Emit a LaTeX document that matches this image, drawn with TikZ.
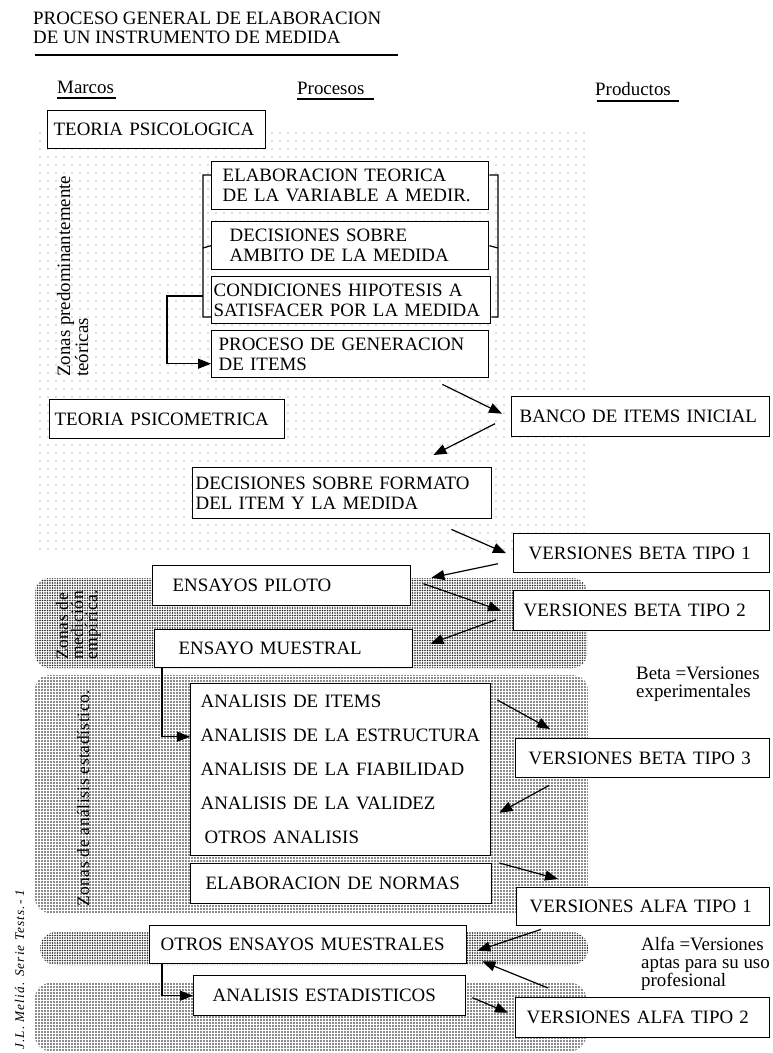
\documentclass[tikz,border=0pt]{standalone}
\usepackage{fontspec}
\setmainfont{Liberation Serif}
\newfontfamily\firma[LetterSpace=8]{Liberation Serif}
\newfontfamily\ancho[LetterSpace=3]{Liberation Serif}
\usetikzlibrary{calc, positioning, arrows.meta, patterns.meta}

\tikzset{
  caja/.style={draw, fill=white, line width=1.4pt, anchor=north west, align=left, inner ysep=0pt},
  flecha/.style={-{Triangle[length=13pt, width=10pt]}, line width=1.2pt},
  texto/.style={inner sep=0pt, anchor=base west},
  vertical/.style={texto, rotate=90},
  espaciado/.style={vertical, font=\fontsize{17.5}{17.5}\ancho},
  zonaclara/.style={pattern={Dots[distance=8pt, radius=0.55pt]}, pattern color=black!55},
  zonaoscura/.style={pattern={Dots[distance=2.5pt, radius=0.9pt]}, pattern color=black!85, rounded corners=14pt},
  zonamedia/.style={pattern={Dots[distance=3pt, radius=0.8pt]}, pattern color=black!90, rounded corners=15pt},
}

\begin{document}
\begin{tikzpicture}[x=1pt, y=-1pt, font=\fontsize{18.9}{20}\selectfont]
\useasboundingbox (0,0) rectangle (773,1053);
% zonas %
\path[zonaclara] (35,132) rectangle (585,550);
\path[zonaoscura] (35,578) rectangle (587,668);
\path[zonamedia] (35,675) rectangle (588,913);
\path[zonaoscura, rounded corners=16pt] (40,932) rectangle (588,965);
\path[zonamedia] (35,983) rectangle (586,1051);
% titulo y columnas %
\node[texto] (tit1) at (33,24) {PROCESO GENERAL DE ELABORACION};
\node[texto] (tit2) at (33,43) {DE UN INSTRUMENTO DE MEDIDA};
\draw[line width=1.5pt] (35,55) -- (398,55);
\node[texto] (marcos) at (57,93) {Marcos};
\node[texto] (procesos) at (297,94) {Procesos};
\node[texto] (productos) at (595,95) {Productos};
\draw[line width=1.2pt] (marcos.base west) ++(0,5) -- ++(59,0);
\draw[line width=1.2pt] (procesos.base west) ++(0,5) -- ++(77,0);
\draw[line width=1.2pt] (productos.base west) ++(2,6) -- ++(82,0);
% rotulos de zonas %
\node[vertical] (zteo1) at (70,377) {Zonas predominantemente};
\node[vertical] (zteo2) at (88,377) {teóricas};
\node[espaciado] (zemp1) at (68,660) {Zonas de};
\node[espaciado] (zemp2) at (83,660) {medición};
\node[espaciado] (zemp3) at (97,660) {empírica.};
\node[espaciado] (zest) at (89,907) {Zonas de análisis estadístico.};
\node[vertical, font=\fontsize{13.3}{14}\firma\itshape] (pie) at (24,1050) {J.L. Meliá. Serie Tests.- 1};
% nodos %
\node[caja, minimum height=38pt, text width=206pt, inner xsep=6pt] (psicol) at (47,110) {TEORIA PSICOLOGICA};
\node[caja, minimum height=48pt, text width=255pt, inner xsep=11pt] (elab) at (211,161) {ELABORACION TEORICA\\DE LA VARIABLE A MEDIR.};
\node[caja, minimum height=48pt, text width=241pt, inner xsep=18pt] (ambito) at (211,221) {DECISIONES SOBRE\\AMBITO DE LA MEDIDA};
\node[caja, minimum height=47pt, text width=275pt, inner xsep=2pt] (condic) at (211,276) {CONDICIONES HIPOTESIS A\\SATISFACER POR LA MEDIDA};
\node[caja, minimum height=47pt, text width=263pt, inner xsep=7pt] (gener) at (211,330) {PROCESO DE GENERACION\\DE ITEMS};
\node[caja, minimum height=39pt, text width=225pt, inner xsep=5pt] (psicom) at (49,399) {TEORIA PSICOMETRICA};
\node[caja, minimum height=40pt, text width=242pt, inner xsep=8pt] (banco) at (511,396) {BANCO DE ITEMS INICIAL};
\node[caja, minimum height=51pt, text width=293pt, inner xsep=3pt] (formato) at (192,467) {DECISIONES SOBRE FORMATO\\DEL ITEM Y LA MEDIDA};
\node[caja, minimum height=39pt, text width=226pt, inner xsep=15pt] (vb1) at (513,533) {VERSIONES BETA TIPO 1};
\node[caja, minimum height=40pt, text width=218pt, inner xsep=20pt] (piloto) at (152,565) {ENSAYOS PILOTO};
\node[caja, minimum height=40pt, text width=236pt, inner xsep=10pt] (vb2) at (513,590) {VERSIONES BETA TIPO 2};
\node[caja, minimum height=38pt, text width=210pt, inner xsep=24pt] (muestral) at (154,629) {ENSAYO MUESTRAL};
\node[caja, minimum height=172pt, text width=280pt, inner xsep=10pt, font=\fontsize{18.9}{34}\selectfont] (analisis) at (190,683) {ANALISIS DE ITEMS\\ANALISIS DE LA ESTRUCTURA\\ANALISIS DE LA FIABILIDAD\\ANALISIS DE LA VALIDEZ\\\hspace*{4pt}OTROS ANALISIS};
\node[caja, minimum height=39pt, text width=228pt, inner xsep=13pt] (vb3) at (515,738) {VERSIONES BETA TIPO 3};
\node[caja, minimum height=40pt, text width=271pt, inner xsep=15pt] (normas) at (190,863) {ELABORACION DE NORMAS};
\node[caja, minimum height=38pt, text width=227pt, inner xsep=13pt] (va1) at (516,887) {VERSIONES ALFA TIPO 1};
\node[caja, minimum height=38pt, text width=295pt, inner xsep=11pt] (otros) at (149,925) {OTROS ENSAYOS MUESTRALES};
\node[caja, minimum height=40pt, text width=234pt, inner xsep=19pt] (estad) at (193,975) {ANALISIS ESTADISTICOS};
\node[caja, minimum height=40pt, text width=232pt, inner xsep=11pt] (va2) at (515,997) {VERSIONES ALFA TIPO 2};
% leyendas %
\node[texto] (beta1) at (636,679) {Beta =Versiones};
\node[texto] (beta2) at (636,697) {experimentales};
\node[texto] (alfa1) at (641,950) {Alfa =Versiones};
\node[texto] (alfa2) at (641,968) {aptas para su uso};
\node[texto] (alfa3) at (641,986) {profesional};
% llave %
\draw[line width=1.2pt] (elab.west |- 0,175) -- (203,175) -- (203,317) -- (condic.west |- 0,317) (203,248) -- (ambito.west);
\draw[line width=1.2pt] (elab.east |- 0,175) -- (498,175) -- (498,317) -- (condic.east |- 0,317) (498,248) -- (ambito.east);
\coordinate (cruce) at (203,296);
% flechas %
\draw[flecha] (cruce) -- ++(-36,0) |- ([shift={(0,9.5)}]gener.west);
\draw[flecha] ([shift={(-47,6)}]gener.south east) -- ([shift={(-9,-3)}]banco.west);
\draw[flecha] ([shift={(-16,7)}]banco.west) -- ([shift={(-59,-12)}]formato.north east);
\draw[flecha] ([shift={(-41,10)}]formato.south east) -- ([shift={(-7,0)}]vb1.west);
\draw[flecha] ([shift={(-15,10.5)}]vb1.west) -- ([shift={(20,-8)}]piloto.east);
\draw[flecha] ([shift={(12,-2)}]piloto.east) -- ([shift={(-12,0)}]vb2.west);
\draw[flecha] ([shift={(-17,9)}]vb2.west) -- ([shift={(17,-5)}]muestral.east);
\draw[flecha] ([shift={(8,0)}]muestral.south west) |- ([shift={(0,-33)}]analisis.west);
\draw[flecha] ([shift={(6,17)}]analisis.north east) -- ([shift={(35,-9)}]vb3.north west);
\draw[flecha] ([shift={(34,7)}]vb3.south west) -- ([shift={(8,43)}]analisis.east);
\draw[flecha] ([shift={(7,0)}]normas.north east) -- ([shift={(42,-8)}]va1.north west);
\draw[flecha] ([shift={(25,3)}]va1.south west) -- ([shift={(10,6)}]otros.east);
\draw[flecha] ([shift={(33,-9)}]va2.north west) -- ([shift={(15,-3)}]otros.south east);
\draw[flecha] ([shift={(13,0)}]otros.south west) |- (estad.west);
\draw[flecha] ([shift={(6,2)}]estad.east) -- ([shift={(-7,-5)}]va2.west);
\end{tikzpicture}
\end{document}
